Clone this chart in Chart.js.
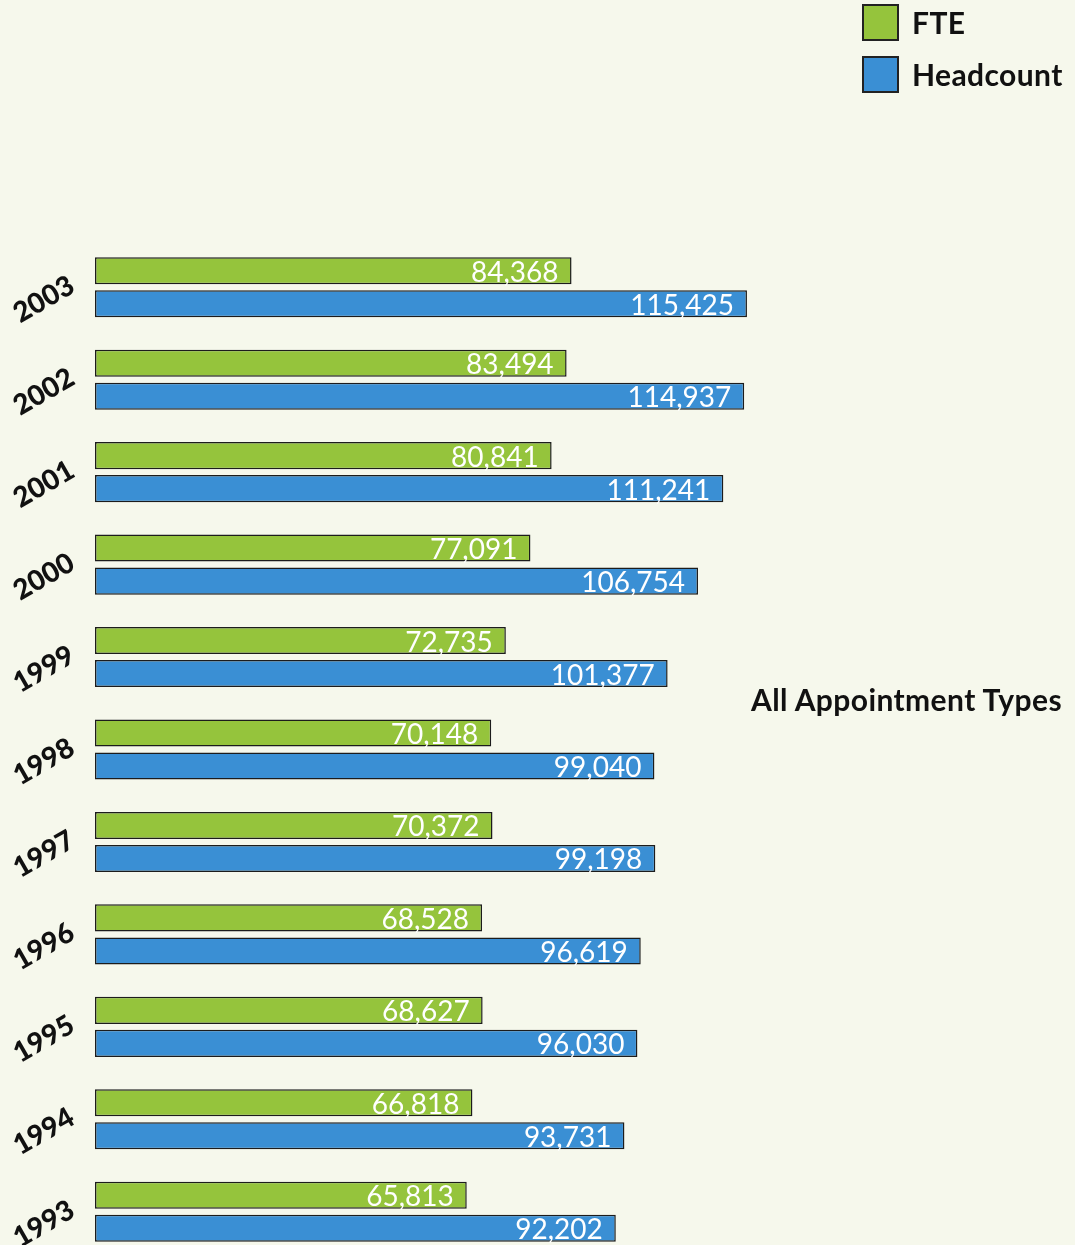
<!DOCTYPE html>
<html>
<head>
<meta charset="utf-8">
<script src="https://cdn.jsdelivr.net/npm/chart.js@4"></script>
<style>
  html, body { margin: 0; padding: 0; background: #f6f8ec; overflow: hidden; }
  #wrap { position: relative; width: 1075px; height: 1260px; }
  .legend { position: absolute; left: 862px; font: 700 30px Lato, sans-serif; color: #111; }
  .legend span.box { position: absolute; left: 0; width: 33px; height: 33px; border: 2px solid #222; }
  .legend span.txt { position: absolute; left: 50px; white-space: nowrap; line-height: 36px; letter-spacing: 0.4px; }
  #title { position: absolute; right: 13px; top: 681px; font: 700 30px Lato, sans-serif; color: #111; white-space: nowrap; letter-spacing: 0.4px; }
</style>
</head>
<body>
<div id="wrap">
  <canvas id="chart" width="1075" height="1260"></canvas>
  <div class="legend" style="top:4px"><span class="box" style="background:#95c43c"></span><span class="txt">FTE</span></div>
  <div class="legend" style="top:56px"><span class="box" style="background:#3a8fd4"></span><span class="txt">Headcount</span></div>
  <div id="title">All Appointment Types</div>
</div>
<script>
// 연도별 인원 (FTE / Headcount)
const years = ["2003", "2002", "2001", "2000", "1999", "1998", "1997", "1996", "1995", "1994", "1993"];
const fte = [84368, 83494, 80841, 77091, 72735, 70148, 70372, 68528, 68627, 66818, 65813];
const headcount = [115425, 114937, 111241, 106754, 101377, 99040, 99198, 96619, 96030, 93731, 92202];

// 막대 끝에 값 표시
const valueLabels = {
    id: "valueLabels",
    afterDatasetsDraw(chart) {
        const ctx = chart.ctx;
        ctx.save();
        ctx.fillStyle = "#ffffff";
        ctx.font = "400 28px Lato, sans-serif";
        ctx.textAlign = "right";
        ctx.textBaseline = "middle";
        chart.data.datasets.forEach((ds, i) => {
            chart.getDatasetMeta(i).data.forEach((bar, j) => {
                ctx.fillText(ds.data[j].toLocaleString("en-US"), bar.x - 13, bar.y + 2);
            });
        });
        ctx.restore();
    }
};

new Chart(document.getElementById("chart"), {
    type: "bar",
    data: {
        labels: years,
        datasets: [
            { label: "FTE", data: fte, backgroundColor: "#95c43c" },
            { label: "Headcount", data: headcount, backgroundColor: "#3a8fd4" }
        ]
    },
    options: {
        indexAxis: "y",
        responsive: false,
        animation: false,
        layout: { padding: { top: 241, bottom: 2, left: 0, right: 0 } },
        datasets: {
            bar: {
                borderColor: "#1c1c1c",
                borderWidth: 1.5,
                borderSkipped: false,
                categoryPercentage: 0.714,
                barPercentage: 0.82
            }
        },
        plugins: { legend: { display: false }, tooltip: { enabled: false } },
        scales: {
            x: { display: false, min: 0, max: 173500 },
            y: {
                grid: { display: false },
                border: { display: false },
                afterFit(scale) {
                    scale.width = 95;
                    scale.paddingTop = 0;
                    scale.paddingBottom = 0;
                },
                ticks: {
                    minRotation: 30,
                    maxRotation: 30,
                    padding: 15,
                    labelOffset: -4,
                    color: "#111",
                    font: { family: "Lato, sans-serif", size: 28, weight: "900" }
                }
            }
        }
    },
    plugins: [valueLabels]
});
</script>
</body>
</html>
